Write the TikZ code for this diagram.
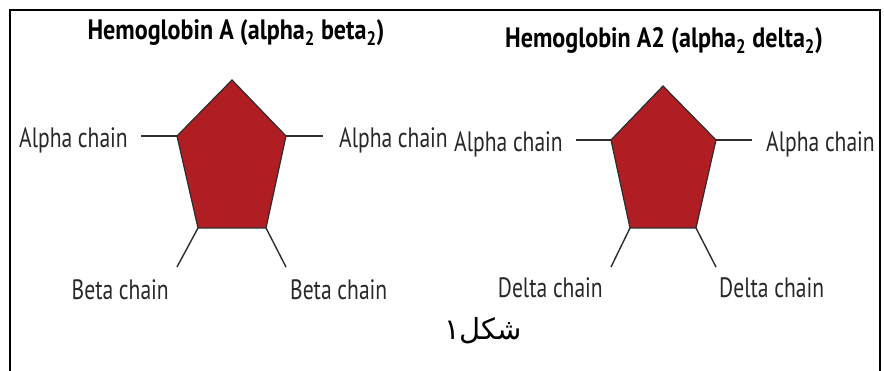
\documentclass[tikz,border=0pt]{standalone}
\usepackage{fontspec}
\setmainfont{PT Sans}[FakeStretch=0.86]
\newfontfamily\labelfont{PT Sans}[FakeStretch=0.77]
\newfontfamily\arabicfont[Script=Arabic]{DejaVu Sans}
\TeXXeTstate=1
\definecolor{hemored}{RGB}{176,30,36}
\definecolor{linegray}{RGB}{45,45,45}
\definecolor{textgray}{RGB}{40,40,40}
\tikzset{
  chainlabel/.style={inner sep=0pt, font=\labelfont\fontsize{28}{30}\selectfont, text=textgray},
  titlelabel/.style={inner sep=0pt, font=\bfseries\fontsize{28}{32}\selectfont, text=black},
  pent/.style={draw=linegray, line width=1.2pt, fill=hemored, line join=miter},
  stub/.style={draw=linegray, line width=1.4pt},
  frameline/.style={draw=black, line width=2.4pt}
}
\begin{document}
\begin{tikzpicture}[x=1pt,y=-1pt]
\useasboundingbox (0,0) rectangle (884,371);
\fill[white] (0,0) rectangle (884,371);
\draw[frameline] (10,371) -- (10,10) -- (880,10) -- (880,371);

% titles
\node[titlelabel] (t1) at (236,33) {Hemoglobin A (alpha\textsubscript{2} beta\textsubscript{2})};
\node[titlelabel] (t2) at (664,41) {Hemoglobin A2 (alpha\textsubscript{2} delta\textsubscript{2})};

% pentagon 1
\coordinate (a1) at (232,80);
\coordinate (a2) at (286,136);
\coordinate (a3) at (266,228);
\coordinate (a4) at (198,228);
\coordinate (a5) at (177,136);
\path[pent] (a1) -- (a2) -- (a3) -- (a4) -- (a5) -- cycle;
\node[chainlabel, anchor=base east] (l1) at (128,148) {Alpha chain};
\node[chainlabel, anchor=base west] (r1) at (339,148) {Alpha chain};
\node[chainlabel, anchor=base east] (bl1) at (169,300) {Beta chain};
\node[chainlabel, anchor=base west] (br1) at (290,300) {Beta chain};
\coordinate (e1l) at (141,136);
\coordinate (e1r) at (323,136);
\coordinate (e1bl) at (177,267);
\coordinate (e1br) at (286,267);
\draw[stub] (e1l) -- (a5);
\draw[stub] (a2) -- (e1r);
\draw[stub] (a4) -- (e1bl);
\draw[stub] (a3) -- (e1br);

% pentagon 2
\coordinate (b1) at (663,86);
\coordinate (b2) at (716,140);
\coordinate (b3) at (696,228);
\coordinate (b4) at (630,228);
\coordinate (b5) at (611,140);
\path[pent] (b1) -- (b2) -- (b3) -- (b4) -- (b5) -- cycle;
\node[chainlabel, anchor=base east] (l2) at (563,152) {Alpha chain};
\node[chainlabel, anchor=base west] (r2) at (766,152) {Alpha chain};
\node[chainlabel, anchor=base east] (bl2) at (603,298) {Delta chain};
\node[chainlabel, anchor=base west] (br2) at (719,298) {Delta chain};
\coordinate (e2l) at (576,140);
\coordinate (e2r) at (752,140);
\coordinate (e2bl) at (611,267);
\coordinate (e2br) at (716,267);
\draw[stub] (e2l) -- (b5);
\draw[stub] (b2) -- (e2r);
\draw[stub] (b4) -- (e2bl);
\draw[stub] (b3) -- (e2br);

% caption
\node[inner sep=0pt, font=\arabicfont\fontsize{29}{32}\selectfont] (cap) at (483,331) {\beginR شکل۱\endR};
\end{tikzpicture}
\end{document}
